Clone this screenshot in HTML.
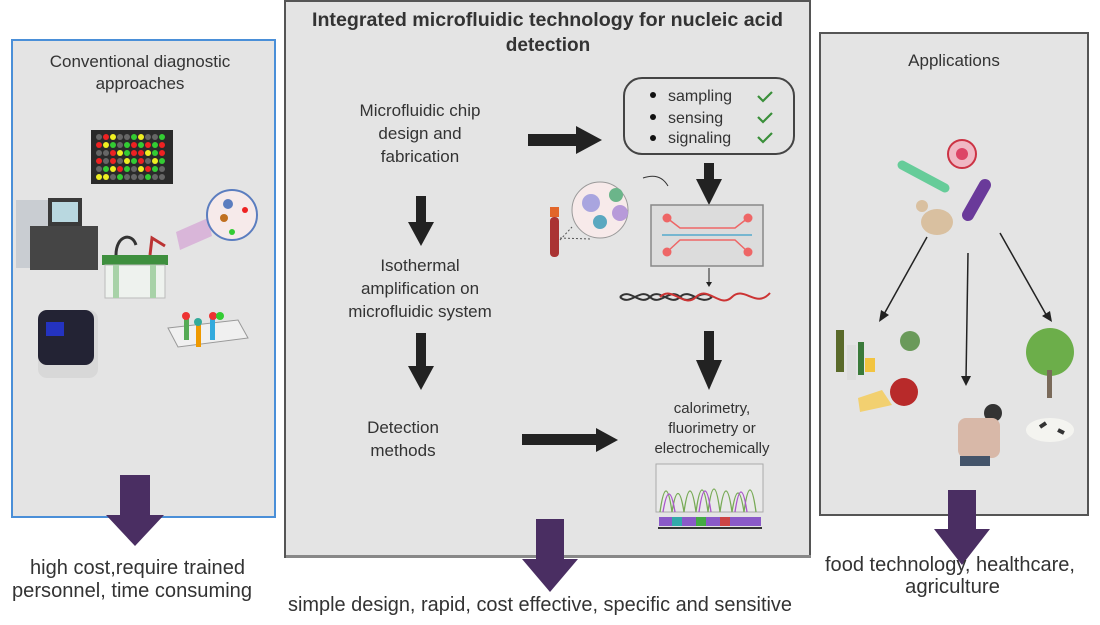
<!DOCTYPE html>
<html><head><meta charset="utf-8"><style>
html,body{margin:0;padding:0;background:#fff;}
svg{display:block;}
text{font-family:"Liberation Sans",sans-serif;fill:#333;}
</style></head><body>
<svg width="1100" height="625" viewBox="0 0 1100 625" xmlns="http://www.w3.org/2000/svg">
<rect x="12" y="40" width="263" height="477" fill="#e4e4e4" stroke="#4a8fd8" stroke-width="2"/>
<rect x="285" y="1" width="525" height="556" fill="#e4e4e4" stroke="#555" stroke-width="2"/>
<rect x="286" y="555" width="525" height="3" fill="#888"/>
<rect x="820" y="33" width="268" height="482" fill="#e4e4e4" stroke="#555" stroke-width="2"/>

<text x="140" y="67" font-size="17" text-anchor="middle">Conventional diagnostic</text>
<text x="140" y="89" font-size="17" text-anchor="middle">approaches</text>
<rect x="91" y="130" width="82" height="54" fill="#2a2a2a"/>
<g>
<circle cx="99" cy="137" r="3" fill="#666"/><circle cx="106" cy="137" r="3" fill="#e22"/><circle cx="113" cy="137" r="3" fill="#ee2"/><circle cx="120" cy="137" r="3" fill="#666"/><circle cx="127" cy="137" r="3" fill="#666"/><circle cx="134" cy="137" r="3" fill="#3c3"/><circle cx="141" cy="137" r="3" fill="#ee2"/><circle cx="148" cy="137" r="3" fill="#666"/><circle cx="155" cy="137" r="3" fill="#666"/><circle cx="162" cy="137" r="3" fill="#3c3"/>
<circle cx="99" cy="145" r="3" fill="#e22"/><circle cx="106" cy="145" r="3" fill="#ee2"/><circle cx="113" cy="145" r="3" fill="#3c3"/><circle cx="120" cy="145" r="3" fill="#666"/><circle cx="127" cy="145" r="3" fill="#3c3"/><circle cx="134" cy="145" r="3" fill="#e22"/><circle cx="141" cy="145" r="3" fill="#3c3"/><circle cx="148" cy="145" r="3" fill="#e22"/><circle cx="155" cy="145" r="3" fill="#3c3"/><circle cx="162" cy="145" r="3" fill="#e22"/>
<circle cx="99" cy="153" r="3" fill="#666"/><circle cx="106" cy="153" r="3" fill="#666"/><circle cx="113" cy="153" r="3" fill="#e22"/><circle cx="120" cy="153" r="3" fill="#ee2"/><circle cx="127" cy="153" r="3" fill="#3c3"/><circle cx="134" cy="153" r="3" fill="#e22"/><circle cx="141" cy="153" r="3" fill="#e22"/><circle cx="148" cy="153" r="3" fill="#ee2"/><circle cx="155" cy="153" r="3" fill="#3c3"/><circle cx="162" cy="153" r="3" fill="#e22"/>
<circle cx="99" cy="161" r="3" fill="#e22"/><circle cx="106" cy="161" r="3" fill="#666"/><circle cx="113" cy="161" r="3" fill="#e22"/><circle cx="120" cy="161" r="3" fill="#666"/><circle cx="127" cy="161" r="3" fill="#ee2"/><circle cx="134" cy="161" r="3" fill="#3c3"/><circle cx="141" cy="161" r="3" fill="#e22"/><circle cx="148" cy="161" r="3" fill="#666"/><circle cx="155" cy="161" r="3" fill="#ee2"/><circle cx="162" cy="161" r="3" fill="#3c3"/>
<circle cx="99" cy="169" r="3" fill="#666"/><circle cx="106" cy="169" r="3" fill="#3c3"/><circle cx="113" cy="169" r="3" fill="#ee2"/><circle cx="120" cy="169" r="3" fill="#e22"/><circle cx="127" cy="169" r="3" fill="#3c3"/><circle cx="134" cy="169" r="3" fill="#666"/><circle cx="141" cy="169" r="3" fill="#ee2"/><circle cx="148" cy="169" r="3" fill="#e22"/><circle cx="155" cy="169" r="3" fill="#3c3"/><circle cx="162" cy="169" r="3" fill="#666"/>
<circle cx="99" cy="177" r="3" fill="#ee2"/><circle cx="106" cy="177" r="3" fill="#ee2"/><circle cx="113" cy="177" r="3" fill="#666"/><circle cx="120" cy="177" r="3" fill="#3c3"/><circle cx="127" cy="177" r="3" fill="#666"/><circle cx="134" cy="177" r="3" fill="#666"/><circle cx="141" cy="177" r="3" fill="#666"/><circle cx="148" cy="177" r="3" fill="#3c3"/><circle cx="155" cy="177" r="3" fill="#666"/><circle cx="162" cy="177" r="3" fill="#666"/>
</g>
<rect x="16" y="200" width="40" height="68" fill="#c9cdd2"/>
<rect x="48" y="198" width="34" height="28" fill="#3a3a3a"/><rect x="52" y="202" width="26" height="20" fill="#b9d8e0"/>
<rect x="30" y="226" width="68" height="44" fill="#454545"/>
<rect x="102" y="255" width="66" height="10" fill="#3e8f3e"/>
<rect x="105" y="265" width="60" height="33" fill="#eef2ee" stroke="#bbb"/>
<rect x="113" y="265" width="6" height="33" fill="#a8d2a8"/><rect x="150" y="265" width="6" height="33" fill="#a8d2a8"/>
<path d="M116 255 C116 235 132 232 136 245" stroke="#333" stroke-width="3" fill="none"/>
<path d="M150 255 L152 238 L165 246" stroke="#b33" stroke-width="3" fill="none"/>
<polygon points="176,232 208,218 212,236 180,250" fill="#d9b6d9"/>
<circle cx="232" cy="215" r="25" fill="#f6eaea" stroke="#5b7dbf" stroke-width="2"/>
<circle cx="228" cy="204" r="5" fill="#5b7dbf"/><circle cx="245" cy="210" r="3" fill="#e22"/><circle cx="224" cy="218" r="4" fill="#c07020"/><circle cx="232" cy="232" r="3" fill="#3c3"/>
<rect x="38" y="310" width="60" height="68" rx="9" fill="#d8d8d8"/>
<rect x="38" y="310" width="56" height="55" rx="9" fill="#232334"/>
<rect x="46" y="322" width="18" height="14" fill="#2433c0"/>
<polygon points="168,328 238,320 248,338 178,347" fill="#f0f0f0" stroke="#999"/>
<rect x="184" y="318" width="5" height="22" fill="#5a5"/><rect x="196" y="325" width="5" height="22" fill="#e90"/><rect x="210" y="318" width="5" height="22" fill="#3ad"/>
<circle cx="186" cy="316" r="4" fill="#e33"/><circle cx="198" cy="322" r="4" fill="#3a9"/><circle cx="213" cy="316" r="4" fill="#e33"/><circle cx="220" cy="316" r="4" fill="#3c3"/>

<text x="312" y="26" font-size="19" font-weight="bold" textLength="471" lengthAdjust="spacingAndGlyphs" fill="#111">Integrated microfluidic technology for nucleic acid</text>
<text x="548" y="51" font-size="19" font-weight="bold" text-anchor="middle" fill="#111">detection</text>
<text x="420" y="116" font-size="17" text-anchor="middle">Microfluidic chip</text>
<text x="420" y="139" font-size="17" text-anchor="middle">design and</text>
<text x="420" y="162" font-size="17" text-anchor="middle">fabrication</text>
<rect x="528" y="134" width="50" height="12" fill="#222"/><polygon points="576,126 602,140 576,154" fill="#222"/>
<rect x="624" y="78" width="170" height="76" rx="18" fill="none" stroke="#444" stroke-width="2"/>
<circle cx="653" cy="95" r="3" fill="#111"/><circle cx="653" cy="117" r="3" fill="#111"/><circle cx="653" cy="138" r="3" fill="#111"/>
<text x="668" y="101" font-size="16">sampling</text>
<text x="668" y="123" font-size="16">sensing</text>
<text x="668" y="143" font-size="16">signaling</text>
<path d="M758 96 l5 5 l9 -9 M758 117 l5 5 l9 -9 M758 137 l5 5 l9 -9" stroke="#3a8f3a" stroke-width="2.2" fill="none"/>
<rect x="704" y="163" width="10" height="18" fill="#222"/><polygon points="696,179 722,179 709,205" fill="#222"/>
<rect x="416" y="196" width="10" height="28" fill="#222"/><polygon points="408,222 434,222 421,246" fill="#222"/>
<text x="420" y="271" font-size="17" text-anchor="middle">Isothermal</text>
<text x="420" y="294" font-size="17" text-anchor="middle">amplification on</text>
<text x="420" y="317" font-size="17" text-anchor="middle">microfluidic system</text>
<rect x="416" y="333" width="10" height="35" fill="#222"/><polygon points="408,366 434,366 421,390" fill="#222"/>
<text x="403" y="433" font-size="17" text-anchor="middle">Detection</text>
<text x="403" y="456" font-size="17" text-anchor="middle">methods</text>
<rect x="522" y="434" width="76" height="11" fill="#222"/><polygon points="596,428 618,440 596,452" fill="#222"/>
<rect x="550" y="207" width="9" height="10" fill="#e2662a"/><rect x="550" y="217" width="9" height="40" rx="4" fill="#a33"/>
<circle cx="600" cy="210" r="28" fill="#f7eaea" stroke="#999"/>
<circle cx="591" cy="203" r="9" fill="#a9a5df"/><circle cx="616" cy="195" r="7" fill="#6bb58a"/><circle cx="620" cy="213" r="8" fill="#b79ad9"/><circle cx="600" cy="222" r="7" fill="#5aa8c0"/>
<path d="M560 240 L572 227 M560 238 L590 239" stroke="#555" stroke-dasharray="2 2" fill="none"/>
<path d="M643 178 Q660 172 668 186" stroke="#333" fill="none"/>
<rect x="651" y="205" width="112" height="61" fill="#dcdcdc" stroke="#888" stroke-width="1.5"/>
<path d="M667 218 L680 228 L735 228 L748 218 M667 252 L680 240 L735 240 L748 252" stroke="#e66" stroke-width="1.5" fill="none"/>
<line x1="662" y1="235" x2="752" y2="235" stroke="#5ac" stroke-width="1.5"/>
<circle cx="667" cy="218" r="4.5" fill="#e66"/><circle cx="748" cy="218" r="4.5" fill="#e66"/><circle cx="667" cy="252" r="4.5" fill="#e66"/><circle cx="748" cy="252" r="4.5" fill="#e66"/>
<line x1="709" y1="268" x2="709" y2="283" stroke="#222"/><polygon points="706,282 712,282 709,287" fill="#222"/>
<path d="M620 297 C630 287 640 307 650 297 C660 287 670 307 680 297 C690 287 700 307 712 297" stroke="#333" stroke-width="2" fill="none"/>
<path d="M620 297 C630 307 640 287 650 297 C660 307 670 287 680 297 C690 307 700 287 712 297" stroke="#333" stroke-width="2" fill="none"/>
<path d="M660 297 C672 285 684 309 696 297 C708 285 720 309 732 297 C744 285 756 309 770 293" stroke="#c33" stroke-width="2" fill="none"/>
<rect x="704" y="331" width="10" height="32" fill="#222"/><polygon points="696,360 722,360 709,390" fill="#222"/>
<text x="712" y="413" font-size="15" text-anchor="middle">calorimetry,</text>
<text x="712" y="433" font-size="15" text-anchor="middle">fluorimetry or</text>
<text x="712" y="453" font-size="15" text-anchor="middle">electrochemically</text>
<rect x="656" y="464" width="107" height="48" fill="#e9e9e9" stroke="#aaa"/>
<path d="M660 512 Q666 470 672 512 Q678 475 684 512 Q690 470 696 512 Q702 468 708 512 Q714 466 720 512 Q726 470 732 512 Q738 474 744 512 Q750 468 756 512" stroke="#7a5" stroke-width="1.3" fill="none"/>
<path d="M663 512 Q669 476 675 512 M699 512 Q705 470 711 512 M735 512 Q741 472 747 512" stroke="#a5c" stroke-width="1.3" fill="none"/>
<rect x="659" y="517" width="102" height="9" fill="#8a5ac8"/><rect x="672" y="517" width="10" height="9" fill="#3aa"/><rect x="696" y="517" width="10" height="9" fill="#4a4"/><rect x="720" y="517" width="10" height="9" fill="#c44"/>
<line x1="658" y1="528" x2="762" y2="528" stroke="#333" stroke-width="2"/>

<text x="954" y="66" font-size="17" text-anchor="middle">Applications</text>
<circle cx="962" cy="154" r="14" fill="#f0b8c4" stroke="#c34" stroke-width="2"/><circle cx="962" cy="154" r="6" fill="#d46"/>
<path d="M902 165 L945 188" stroke="#6c9" stroke-width="9" stroke-linecap="round"/>
<path d="M985 185 L968 215" stroke="#6a3a9a" stroke-width="12" stroke-linecap="round"/>
<ellipse cx="937" cy="222" rx="16" ry="13" fill="#d9c0a0"/><circle cx="922" cy="206" r="6" fill="#d9c0a0"/>
<line x1="927" y1="237" x2="883" y2="316" stroke="#222" stroke-width="1.5"/><polygon points="879,322 881,310 889,315" fill="#222"/>
<line x1="968" y1="253" x2="966" y2="380" stroke="#222" stroke-width="1.5"/><polygon points="961,376 971,376 966,386" fill="#222"/>
<line x1="1000" y1="233" x2="1048" y2="318" stroke="#222" stroke-width="1.5"/><polygon points="1052,322 1042,316 1050,311" fill="#222"/>
<rect x="836" y="330" width="8" height="42" fill="#5a6a2a"/><rect x="847" y="345" width="9" height="35" fill="#ddd"/><rect x="858" y="342" width="6" height="33" fill="#3a7a3a"/><rect x="865" y="358" width="10" height="14" fill="#f2c440"/>
<circle cx="910" cy="341" r="10" fill="#6a9a5a"/>
<polygon points="858,398 882,390 892,405 860,412" fill="#f2d070"/>
<circle cx="904" cy="392" r="14" fill="#b82a2a"/>
<circle cx="1050" cy="352" r="24" fill="#6cae4a"/><rect x="1047" y="370" width="5" height="28" fill="#7a6a5a"/>
<ellipse cx="1050" cy="430" rx="24" ry="12" fill="#f4f4f0"/><path d="M1040 427 l6 -4 M1058 430 l6 3" stroke="#333" stroke-width="4"/>
<circle cx="993" cy="413" r="9" fill="#333"/><rect x="958" y="418" width="42" height="40" rx="8" fill="#d8b8a8"/><rect x="960" y="456" width="30" height="10" fill="#44546a"/>

<rect x="120" y="475" width="30" height="40" fill="#4a2e62"/><polygon points="106,515 164,515 135,546" fill="#4a2e62"/>
<rect x="536" y="519" width="28" height="42" fill="#4a2e62"/><polygon points="522,559 578,559 550,592" fill="#4a2e62"/>
<rect x="948" y="490" width="28" height="40" fill="#4a2e62"/><polygon points="934,529 990,529 962,565" fill="#4a2e62"/>

<text x="30" y="574" font-size="20" textLength="215" lengthAdjust="spacingAndGlyphs">high cost,require trained</text>
<text x="12" y="597" font-size="20" textLength="240" lengthAdjust="spacingAndGlyphs">personnel, time consuming</text>
<text x="288" y="611" font-size="20" textLength="504" lengthAdjust="spacingAndGlyphs">simple design, rapid, cost effective, specific and sensitive</text>
<text x="825" y="571" font-size="20" textLength="250" lengthAdjust="spacingAndGlyphs">food technology, healthcare,</text>
<text x="905" y="593" font-size="20" textLength="95" lengthAdjust="spacingAndGlyphs">agriculture</text>
</svg>
</body></html>
